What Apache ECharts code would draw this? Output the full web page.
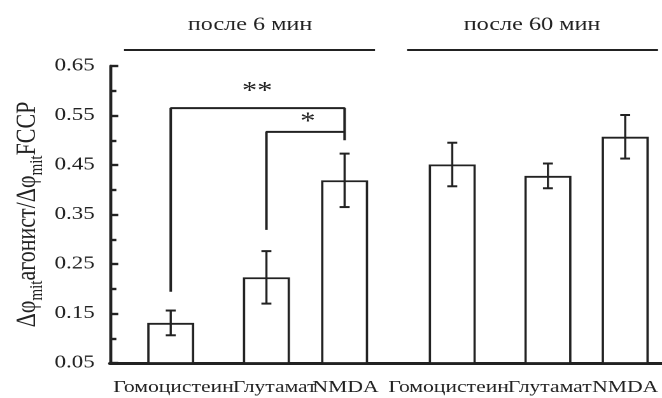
<!DOCTYPE html>
<html>
    <head>
        <meta charset="UTF-8">
        <script src="https://cdn.jsdelivr.net/npm/echarts@6/dist/echarts.min.js"></script>
        <style>
            body { margin: 0; overflow: hidden; background: #fff; }
            /* the reference figure is stretched sideways, so is this one */
            #chart { width: 520px; height: 398px; transform: scaleX(1.27308); transform-origin: 0 0; }
        </style>
    </head>
    <body>
        <div id="chart"></div>
        <script>
            const categories = ['Гомоцистеин', 'Глутамат', 'NMDA', 'Гомоцистеин', 'Глутамат', 'NMDA'];
            // bar centres and label centres along the x axis (axis units 0..6)
            const barX = [0.66, 1.70, 2.55, 3.72, 4.76, 5.60];
            const labelX = [0.69, 1.79, 2.56, 3.68, 4.78, 5.60];
            const values = [0.131, 0.223, 0.419, 0.451, 0.428, 0.507];
            const errors = [0.025, 0.053, 0.054, 0.044, 0.025, 0.044];
            const groups = ['после 6 мин', 'после 60 мин'];
            const stars = ['**', '*'];
            const starX = [1.60, 2.15];
            const starY = [0.598, 0.536];
            const bracket1 = [[barX[0], 0.194], [barX[0], 0.565], [barX[2], 0.565], [barX[2], 0.50]];
            const bracket2 = [[barX[1], 0.319], [barX[1], 0.517], [barX[2], 0.517]];

            const S = 662 / 520;
            const ink = '#222';
            const serif = '"Liberation Serif", "Times New Roman", serif';

            const chart = echarts.init(document.getElementById('chart'), null, {devicePixelRatio: 2});

            const option = {
                animation: false,
                grid: {left: 110 / S, right: 0, top: 66, bottom: 35, outerBoundsMode: 'none', containLabel: false},
                xAxis: {
                    type: 'value',
                    min: 0,
                    max: 6,
                    splitLine: {show: false},
                    axisTick: {show: false},
                    axisLabel: {show: false},
                    axisLine: {lineStyle: {color: ink, width: 3}}
                },
                yAxis: {
                    type: 'value',
                    min: 0.05,
                    max: 0.65,
                    interval: 0.1,
                    splitLine: {show: false},
                    axisLine: {show: true, lineStyle: {color: ink, width: 2.4}},
                    axisTick: {show: true, inside: true, length: 6.5, lineStyle: {color: ink, width: 2.4}},
                    minorTick: {show: true, splitNumber: 2, length: 5, lineStyle: {color: ink, width: 2.4}},
                    axisLabel: {
                        formatter: (v) => v.toFixed(2),
                        color: ink,
                        fontFamily: serif,
                        fontSize: 18,
                        margin: 12
                    },
                    name: '{m|Δφ}{s|mit}{m|агонист/Δφ}{s|mit}{m|FCCP}',
                    nameLocation: 'middle',
                    nameRotate: 90,
                    nameMoveOverlap: false,
                    nameGap: 50,
                    nameTextStyle: {
                        rich: {
                            m: {fontFamily: serif, fontSize: 22, color: ink, lineHeight: 29},
                            s: {fontFamily: serif, fontSize: 15, color: ink, lineHeight: 15, verticalAlign: 'bottom'}
                        }
                    }
                },
                graphic: [
                    {type: 'text', style: {text: groups[0], x: 250 / S, y: 25, font: '19px ' + serif, align: 'center', verticalAlign: 'middle', fill: ink}},
                    {type: 'text', style: {text: groups[1], x: 532 / S, y: 25, font: '19px ' + serif, align: 'center', verticalAlign: 'middle', fill: ink}},
                    {type: 'line', shape: {x1: 124 / S, y1: 50, x2: 375 / S, y2: 50}, style: {stroke: ink, lineWidth: 2}},
                    {type: 'line', shape: {x1: 407 / S, y1: 50, x2: 658 / S, y2: 50}, style: {stroke: ink, lineWidth: 2}}
                ],
                series: [
                    {
                        type: 'bar',
                        data: values.map((v, i) => [barX[i], v]),
                        barWidth: 47 / S,
                        itemStyle: {color: '#fff', borderColor: ink, borderWidth: 1.8}
                    },
                    {
                        type: 'custom',
                        data: values.map((v, i) => [barX[i], v - errors[i], v + errors[i]]),
                        renderItem: function (params, api) {
                            const top = api.coord([api.value(0), api.value(2)]);
                            const bot = api.coord([api.value(0), api.value(1)]);
                            const cap = 5 / S;
                            return {
                                type: 'group',
                                children: [
                                    {type: 'line', shape: {x1: top[0], y1: top[1], x2: bot[0], y2: bot[1]}, style: {stroke: ink, lineWidth: 1.7}},
                                    {type: 'line', shape: {x1: top[0] - cap, y1: top[1], x2: top[0] + cap, y2: top[1]}, style: {stroke: ink, lineWidth: 2}},
                                    {type: 'line', shape: {x1: bot[0] - cap, y1: bot[1], x2: bot[0] + cap, y2: bot[1]}, style: {stroke: ink, lineWidth: 2}}
                                ]
                            };
                        },
                        z: 3
                    },
                    {
                        type: 'line',
                        data: bracket1,
                        symbol: 'none',
                        lineStyle: {color: ink, width: 2},
                        z: 4
                    },
                    {
                        type: 'line',
                        data: bracket2,
                        symbol: 'none',
                        lineStyle: {color: ink, width: 2},
                        z: 4
                    },
                    {
                        // significance stars
                        type: 'custom',
                        data: stars.map((s, i) => [starX[i], starY[i]]),
                        renderItem: function (params, api) {
                            const p = api.coord([api.value(0), api.value(1)]);
                            return {
                                type: 'text',
                                x: p[0],
                                y: p[1],
                                style: {text: stars[params.dataIndex], font: '24px ' + serif, align: 'center', verticalAlign: 'middle', fill: ink}
                            };
                        },
                        z: 5
                    },
                    {
                        // category names under the x axis (they touch, so the axis would drop some)
                        type: 'custom',
                        data: labelX.map((x) => [x, 0.05]),
                        renderItem: function (params, api) {
                            const p = api.coord([api.value(0), api.value(1)]);
                            return {
                                type: 'text',
                                x: p[0],
                                y: p[1] + 16,
                                style: {text: categories[params.dataIndex], font: '17px ' + serif, align: 'center', verticalAlign: 'top', fill: ink}
                            };
                        },
                        z: 5
                    }
                ]
            };
            chart.setOption(option);
        </script>
    </body>
</html>
